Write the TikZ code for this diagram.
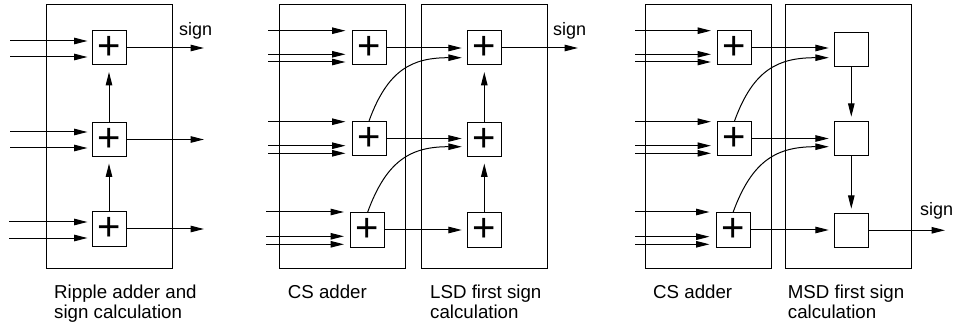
\documentclass[tikz,border=0pt]{standalone}
\usepackage{fontspec}
\setmainfont{Liberation Sans}
\usetikzlibrary{arrows.meta,calc}
\begin{document}
\begin{tikzpicture}[x=1pt,y=-1pt,
  font=\fontsize{18}{20}\selectfont,
  panel/.style={draw, line width=1pt, minimum width=126pt, minimum height=263pt, inner sep=0pt},
  adder/.style={draw, line width=1pt, minimum size=34pt, inner sep=0pt, font=\fontsize{40}{40}\selectfont},
  cell/.style={draw, line width=1pt, minimum size=34pt, inner sep=0pt},
  arr/.style={-{Triangle[length=13.5pt,width=6.5pt]}, line width=1pt},
  inarr/.style={arr, shorten >=6pt},
  lbl/.style={anchor=base west, inner sep=0pt, align=left},
  caption/.style={lbl, font=\fontsize{18.7}{20}\selectfont}
]
\useasboundingbox (0,0) rectangle (954,326);

% ---------------- Panel 1: ripple adder ----------------
\node[panel] (P1) at (109,136.5) {};
\node[adder] (A1) at (109,48) {+};
\node[adder] (A2) at (109,139.5) {+};
\node[adder] (A3) at (109,229) {+};
\coordinate (a1i1) at (10,41);  \draw[arr, shorten >=4pt] (a1i1) -- (a1i1 -| A1.west);
\coordinate (a1i2) at (10,57);  \draw[arr, shorten >=4pt] (a1i2) -- (a1i2 -| A1.west);
\coordinate (a2i1) at (10,132); \draw[arr, shorten >=4pt] (a2i1) -- (a2i1 -| A2.west);
\coordinate (a2i2) at (10,148); \draw[arr, shorten >=4pt] (a2i2) -- (a2i2 -| A2.west);
\coordinate (a3i1) at (9,222);  \draw[arr, shorten >=4pt] (a3i1) -- (a3i1 -| A3.west);
\coordinate (a3i2) at (9,238);  \draw[arr, shorten >=4pt] (a3i2) -- (a3i2 -| A3.west);
\coordinate (a1o) at (204,48);    \draw[arr] (A1.east) -- (a1o);
\coordinate (a2o) at (204,139.5); \draw[arr] (A2.east) -- (a2o);
\coordinate (a3o) at (204,229);   \draw[arr] (A3.east) -- (a3o);
\draw[arr, shorten >=6.5pt] (A3.north) -- (A2.south);
\draw[arr, shorten >=6.5pt] (A2.north) -- (A1.south);
\node[lbl] (s1) at (179,35.5) {sign};
\node[caption] (cap1) at (54,318.3) {Ripple adder and\\sign calculation};

% ---------------- Panel 2: CS adder + LSD first ----------------
\node[panel] (P2) at (342,136.5) {};
\node[panel] (P3) at (484,136.5) {};
\node[adder] (B1) at (369,48) {+};
\node[adder] (B2) at (369,138.5) {+};
\node[adder] (B3) at (367.5,230) {+};
\node[adder] (C1) at (484.3,48) {+};
\node[adder] (C2) at (484.3,139.5) {+};
\node[adder] (C3) at (484.3,230) {+};
\coordinate (b1i1) at (268,30.7);  \draw[inarr] (b1i1) -- (b1i1 -| B1.west);
\coordinate (b1i2) at (268,54.3);  \draw[inarr] (b1i2) -- (b1i2 -| B1.west);
\coordinate (b1i3) at (268,62);    \draw[inarr] (b1i3) -- (b1i3 -| B1.west);
\coordinate (b2i1) at (268,121.7); \draw[inarr] (b2i1) -- (b2i1 -| B2.west);
\coordinate (b2i2) at (268,145.7); \draw[inarr] (b2i2) -- (b2i2 -| B2.west);
\coordinate (b2i3) at (268,153.3); \draw[inarr] (b2i3) -- (b2i3 -| B2.west);
\coordinate (b3i1) at (266,212);   \draw[inarr] (b3i1) -- (b3i1 -| B3.west);
\coordinate (b3i2) at (266,236.3); \draw[inarr] (b3i2) -- (b3i2 -| B3.west);
\coordinate (b3i3) at (266,244.3); \draw[inarr] (b3i3) -- (b3i3 -| B3.west);
\draw[arr, shorten >=5pt] (B1.east) -- (B1.east -| C1.west);
\draw[arr, shorten >=5pt] (B2.east) -- (B2.east -| C2.west);
\draw[arr, shorten >=5pt] (B3.east) -- (B3.east -| C3.west);
\draw[arr, shorten >=5pt] (B2.north) to[out=70,in=180,looseness=1.2] ($(C1.west)+(0,9.7)$);
\draw[arr, shorten >=5pt] (B3.north) to[out=70,in=180,looseness=1.2] ($(C2.west)+(0,7.2)$);
\draw[arr, shorten >=6.5pt] (C3.north) -- (C2.south);
\draw[arr, shorten >=6.5pt] (C2.north) -- (C1.south);
\coordinate (c1o) at (578,48); \draw[arr] (C1.east) -- (c1o);
\node[lbl] (s2) at (553,35.5) {sign};
\node[caption] (cap2) at (287.7,298.3) {CS adder};
\node[caption] (cap3) at (430,318.3) {LSD first sign\\calculation};

% ---------------- Panel 3: CS adder + MSD first ----------------
\node[panel] (P4) at (708.3,136.5) {};
\node[panel] (P5) at (848.5,136.5) {};
\node[adder] (D1) at (734.5,48) {+};
\node[adder] (D2) at (734.5,138.5) {+};
\node[adder] (D3) at (733,230) {+};
\node[cell] (E1) at (851.3,49.5) {};
\node[cell] (E2) at (851.3,138.3) {};
\node[cell] (E3) at (851.3,230.3) {};
\coordinate (d1i1) at (635,30.7);  \draw[inarr] (d1i1) -- (d1i1 -| D1.west);
\coordinate (d1i2) at (635,54.3);  \draw[inarr] (d1i2) -- (d1i2 -| D1.west);
\coordinate (d1i3) at (635,62);    \draw[inarr] (d1i3) -- (d1i3 -| D1.west);
\coordinate (d2i1) at (635,121.7); \draw[inarr] (d2i1) -- (d2i1 -| D2.west);
\coordinate (d2i2) at (635,145.7); \draw[inarr] (d2i2) -- (d2i2 -| D2.west);
\coordinate (d2i3) at (635,153.3); \draw[inarr] (d2i3) -- (d2i3 -| D2.west);
\coordinate (d3i1) at (635,212);   \draw[inarr] (d3i1) -- (d3i1 -| D3.west);
\coordinate (d3i2) at (635,236.7); \draw[inarr] (d3i2) -- (d3i2 -| D3.west);
\coordinate (d3i3) at (635,244.3); \draw[inarr] (d3i3) -- (d3i3 -| D3.west);
\draw[arr, shorten >=5pt] (D1.east) -- (D1.east -| E1.west);
\draw[arr, shorten >=5pt] (D2.east) -- (D2.east -| E2.west);
\draw[arr, shorten >=5pt] (D3.east) -- (D3.east -| E3.west);
\draw[arr, shorten >=5pt] (D2.north) to[out=70,in=180,looseness=1.2] ($(E1.west)+(0,8.2)$);
\draw[arr, shorten >=5pt] (D3.north) to[out=70,in=180,looseness=1.2] ($(E2.west)+(0,8.4)$);
\draw[arr, shorten >=4pt] (E1.south) -- (E2.north);
\draw[arr, shorten >=4pt] (E2.south) -- (E3.north);
\coordinate (e3o) at (945,230.3); \draw[arr] (E3.east) -- (e3o);
\node[lbl] (s3) at (920,215) {sign};
\node[caption] (cap4) at (653,298.3) {CS adder};
\node[caption] (cap5) at (787.7,318.3) {MSD first sign\\calculation};
\end{tikzpicture}
\end{document}
